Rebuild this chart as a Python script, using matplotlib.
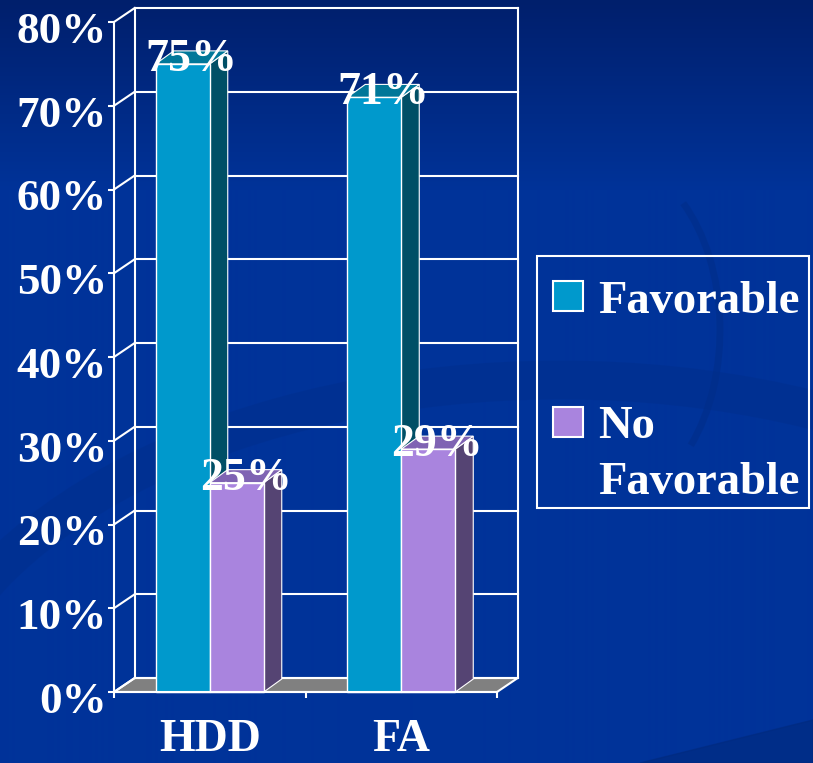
import numpy as np
import matplotlib
matplotlib.use("Agg")
from matplotlib import pyplot as plt
from matplotlib.patches import Polygon, Rectangle, Arc

# data
categories = ["HDD", "FA"]
series = ["Favorable", "No\nFavorable"]
favorable = [75, 71]
no_favorable = [25, 29]
yticks = [0, 10, 20, 30, 40, 50, 60, 70, 80]
ytick_labels = ["%d%%" % v for v in yticks]

plt.rcParams['font.family'] = ['Liberation Serif', 'DejaVu Serif']
plt.rcParams['font.weight'] = 'bold'

W, H = 813, 763
fig = plt.figure(figsize=(W / 100, H / 100), dpi=100)

# ---- background (gradient + faint swirls)
bg = fig.add_axes([0, 0, 1, 1], zorder=0)
rows = np.arange(H)
t = np.clip(rows / 190.0, 0, 1)
top = np.array([0x00, 0x1f, 0x6c]) / 255
bot = np.array([0x00, 0x33, 0x99]) / 255
grad = top[None, :] * (1 - t[:, None]) + bot[None, :] * t[:, None]
img = np.repeat(grad[:, None, :], W, axis=1)
bg.imshow(img, extent=[0, W, H, 0], aspect='auto')
# broad faint band sweeping through the middle
bg.add_patch(Arc((560, 760), 1300, 760, theta1=185, theta2=355, lw=28,
                 color='#002c85', alpha=0.3))
# thin faint crescent at the upper right
bg.add_patch(Arc((610, 330), 220, 340, theta1=-60, theta2=55, lw=5,
                 color='#002c85', alpha=0.45))
bg.add_patch(Polygon([(640, 763), (813, 720), (813, 763)], color='#002a7e', alpha=0.6))
bg.set_xlim(0, W)
bg.set_ylim(H, 0)
bg.axis('off')

# ---- main 3D-looking bar chart
ax = fig.add_axes([114 / W, (H - 692) / H, 383 / W, 670 / H], zorder=1)
ax.set_facecolor('none')
ax.set_xlim(0, 2)
ax.set_ylim(0, 80)
for s in ['top', 'right']:
    ax.spines[s].set_visible(False)
for s in ['left', 'bottom']:
    ax.spines[s].set_color('white')
    ax.spines[s].set_linewidth(1.5)
    ax.spines[s].set_zorder(6)

wdx, wdy = 0.108, 1.67     # wall depth
bdx, bdy = 0.094, 1.55     # bar depth
bw = 0.282
lc = 'white'

# floor
ax.add_patch(Polygon([(0, 0), (2, 0), (2 + wdx, wdy), (wdx, wdy)], closed=True,
                     fc='#808080', ec=lc, lw=1.5, clip_on=False, zorder=1))
# gridlines on the back and side walls
for v in yticks:
    ax.plot([wdx, 2 + wdx], [v + wdy, v + wdy], color=lc, lw=1.5, clip_on=False, zorder=1)
    ax.plot([0, wdx], [v, v + wdy], color=lc, lw=1.5, clip_on=False, zorder=1)
for xx in [wdx, 2 + wdx]:
    ax.plot([xx, xx], [wdy, 80 + wdy], color=lc, lw=1.5, clip_on=False, zorder=1)


def bar3d(x0, h, front, side, topc):
    ax.add_patch(Polygon([(x0 + bw, 0), (x0 + bw + bdx, bdy), (x0 + bw + bdx, h + bdy), (x0 + bw, h)],
                         closed=True, fc=side, ec=lc, lw=0.8, clip_on=False, zorder=3))
    ax.add_patch(Polygon([(x0, h), (x0 + bdx, h + bdy), (x0 + bw + bdx, h + bdy), (x0 + bw, h)],
                         closed=True, fc=topc, ec=lc, lw=0.8, clip_on=False, zorder=3))
    ax.add_patch(Rectangle((x0, 0), bw, h, fc=front, ec=lc, lw=1.0, clip_on=False, zorder=3))


for i, cat in enumerate(categories):
    c = i + 0.5
    bar3d(c - bw, favorable[i], '#0099cc', '#004f66', '#007799')
    bar3d(c, no_favorable[i], '#a984de', '#554473', '#7f63b3')
    for x0, v in [(c - bw, favorable[i]), (c, no_favorable[i])]:
        ax.annotate("%d%%" % v, (x0 + bw / 2 + bdx / 2, v), xytext=(0, -5),
                    textcoords='offset points', ha='center', va='baseline',
                    color='white', fontsize=33, fontweight='bold', zorder=10,
                    annotation_clip=False)
    ax.annotate(cat, (c, 0), xytext=(0, -50), textcoords='offset points',
                ha='center', va='bottom', color='white', fontsize=33,
                fontweight='bold', annotation_clip=False)

ax.set_xticks([0, 1, 2])
ax.set_xticklabels([])
ax.set_yticks(yticks)
ax.set_yticklabels([])
ax.tick_params(axis='both', direction='out', length=4, width=1.5, color='white')
for v, lab in zip(yticks, ytick_labels):
    ax.annotate(lab, (0, v), xytext=(-5, -15), textcoords='offset points',
                ha='right', va='baseline', color='white', fontsize=32.5,
                fontweight='bold', annotation_clip=False)

# ---- legend box
lg = fig.add_axes([0, 0, 1, 1], zorder=2)
lg.set_xlim(0, W)
lg.set_ylim(H, 0)
lg.axis('off')
lg.add_patch(Rectangle((537, 256), 272, 252, fc='none', ec='white', lw=1.5))
colors = ['#0099cc', '#a984de']
for (sy, base), lab, col in zip([(281, 313), (407, 438)], series, colors):
    lg.add_patch(Rectangle((553, sy), 30, 30, fc=col, ec='white', lw=1.5))
    lines = lab.split("\n")
    for k, ln in enumerate(lines):
        lg.text(598, base + k * 56, ln, color='white', fontsize=33.5,
                fontweight='bold', ha='left', va='baseline')

fig.savefig("out.png", dpi=100)
